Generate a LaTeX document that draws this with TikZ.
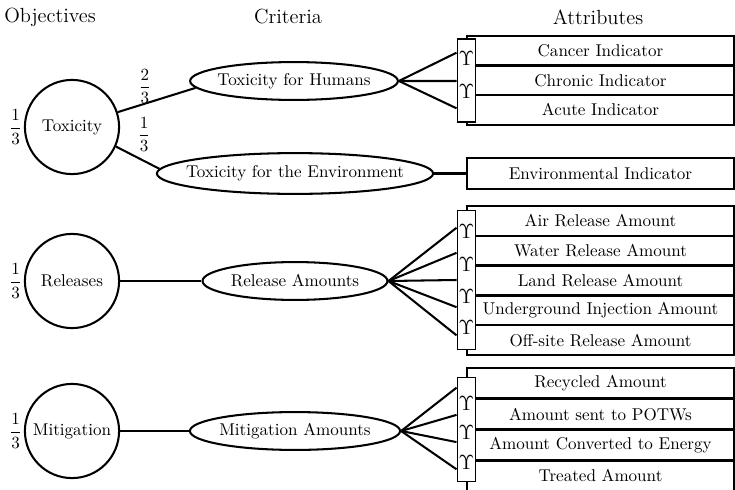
\documentclass[tikz,border=0pt]{standalone}
\usetikzlibrary{shapes.geometric,positioning,calc}
\tikzset{
  objective/.style={circle, draw, line width=1.2pt, minimum size=1.94cm, inner sep=0pt},
  criterion/.style={ellipse, draw, line width=1.2pt, inner xsep=-1cm, inner ysep=0pt, minimum height=0.78cm},
  attr/.style={rectangle, draw, line width=1.2pt, minimum width=5.5cm, minimum height=0.62cm, inner sep=0pt},
  joinbar/.style={rectangle, draw, line width=0.6pt, fill=white, minimum width=0.39cm, inner sep=0pt},
  fork/.style={inner sep=0pt, font=\large},
  link/.style={line width=1.2pt},
  weight/.style={inner sep=1pt},
  heading/.style={font=\large}
}
\newcommand{\third}[1]{$\displaystyle\frac{#1}{3}$}
\begin{document}
\begin{tikzpicture}[x=0.0206cm, y=-0.0206cm]
	\useasboundingbox (0,0) rectangle (735,490);
	\node[heading] (hobj) at (50,17) {Objectives};
	\node[heading] (hcrit) at (288,17) {Criteria};
	\node[heading] (hattr) at (598,17) {Attributes};

	\node[objective] (tox) at (72,127) {Toxicity};
	\node[objective] (rel) at (72,281) {Releases};
	\node[objective] (mit) at (72,431) {Mitigation};
	\foreach \o in {tox,rel,mit}
		\node[weight, left=0pt of \o] (w\o) {\third{1}};

	\node[criterion, minimum width=4.28cm] (hum) at (294,81) {Toxicity for Humans};
	\node[criterion, minimum width=5.69cm, minimum height=0.84cm] (env) at (295,173.5) {Toxicity for the Environment};
	\node[criterion, minimum width=3.81cm] (relamt) at (295,281) {Release Amounts};
	\node[criterion, minimum width=4.33cm] (mitamt) at (295,431) {Mitigation Amounts};

	\draw[link] (tox.18) -- node[weight, pos=0.35, above=-1.5pt] (whum) {\third{2}} (hum.184);
	\draw[link] (tox.-24) -- node[weight, pos=0.65, above=4pt] (wenv) {\third{1}} (env.178);
	\draw[link] (rel) -- (relamt);
	\draw[link] (mit) -- (mitamt);

	\foreach \t [count=\i] in {Cancer Indicator, Chronic Indicator, Acute Indicator}
		\node[attr] (humatt\i) at (600.5, 36+29.5*\i-14.75) {\t};
	\node[attr] (envatt) at (600.5,173.5) {Environmental Indicator};
	\foreach \t [count=\i] in {Air Release Amount, Water Release Amount, Land Release Amount, Underground Injection Amount, Off-site Release Amount}
		\node[attr] (relatt\i) at (600.5, 206+29.8*\i-14.9) {\t};
	\foreach \t [count=\i] in {Recycled Amount, Amount sent to POTWs, Amount Converted to Energy, Treated Amount}
		\node[attr] (mitatt\i) at (600.5, 368+30.8*\i-15.4) {\t};
	\draw[link] (env) -- (envatt);

	\node[joinbar, minimum height=1.71cm] (bar1) at (466.5,80.5) {};
	\node[joinbar, minimum height=2.88cm] (bar2) at (466.5,280) {};
	\node[joinbar, minimum height=2.16cm] (bar3) at (466.5,429.5) {};

	\foreach \y in {59,92}
		\node[fork] (forka\y) at (466.5,\y) {$\Upsilon$};
	\foreach \y in {232,265,297,327}
		\node[fork] (forkb\y) at (466.5,\y) {$\Upsilon$};
	\foreach \y in {403,432,462}
		\node[fork] (forkc\y) at (466.5,\y) {$\Upsilon$};

	\foreach \f in {0.169,0.506,0.831}
		\draw[link] (hum.east) -- ($(bar1.north west)!\f!(bar1.south west)$);
	\foreach \f in {0.129,0.307,0.5,0.693,0.893}
		\draw[link] (relamt.east) -- ($(bar2.north west)!\f!(bar2.south west)$);
	\foreach \f in {0.105,0.362,0.619,0.876}
		\draw[link] (mitamt.east) -- ($(bar3.north west)!\f!(bar3.south west)$);
\end{tikzpicture}
\end{document}
